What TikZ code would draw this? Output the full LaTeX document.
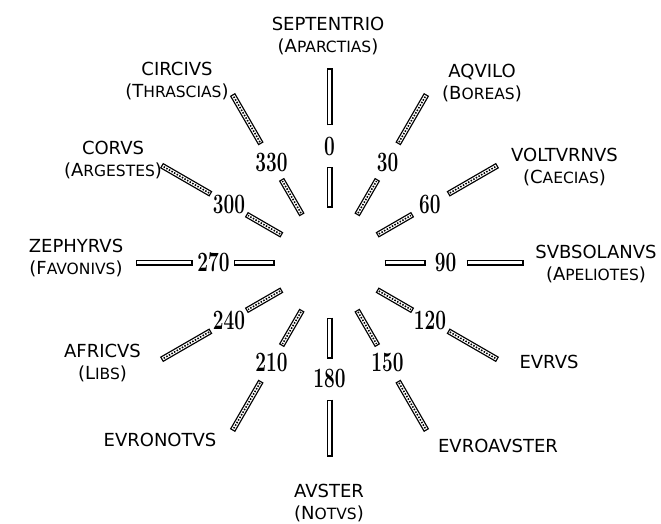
\documentclass[tikz,border=0pt]{standalone}
\usepackage{fontspec}
\usepackage{graphicx}
\usetikzlibrary{calc}
\newfontfamily\labfont{DejaVu Sans}
\newcommand\smc[1]{{\fontsize{15.5}{22}\selectfont #1}}
\newcommand\cnum[1]{\scalebox{0.68}[1]{#1}}
\begin{document}
\begin{tikzpicture}[x=1pt,y=-1pt,
  lab/.style={font=\labfont\fontsize{18}{22}\selectfont, align=center, inner sep=0pt},
  num/.style={font=\fontsize{28}{30}\selectfont\bfseries, inner sep=0pt},
  barout/.style={draw=black, line width=6pt},
  barin/.style={draw=white, line width=3.4pt, shorten <=1.3pt, shorten >=1.3pt},
  chain/.style={draw=black, line width=1.6pt, dash pattern=on 1.5pt off 1.5pt, shorten <=2pt, shorten >=2pt}]
\useasboundingbox (0,0) rectangle (661,524);
\fill[white] (0,0) rectangle (661,524);
\coordinate (C) at (329.5,262.5);
% bar end points and numbers
\foreach \t in {0,30,...,330} {
  \coordinate (a\t) at ($(C)+({\t-90}:55)$);
  \coordinate (b\t) at ($(C)+({\t-90}:96)$);
  \coordinate (c\t) at ($(C)+({\t-90}:137)$);
  \coordinate (d\t) at ($(C)+({\t-90}:194)$);
  \node[num] (n\t) at ($(C)+({\t-90}:116)$) {\cnum{\t}};
}
\foreach \t in {0,90,180,270} {
  \draw[barout] (a\t) -- (b\t);
  \draw[barin] (a\t) -- (b\t);
  \draw[barout] (c\t) -- (d\t);
  \draw[barin] (c\t) -- (d\t);
}
\foreach \t in {30,60,120,150,210,240,300,330} {
  \draw[barout] (a\t) -- (b\t);
  \draw[barin] (a\t) -- (b\t);
  \draw[chain] (a\t) -- (b\t);
  \draw[barout] (c\t) -- (d\t);
  \draw[barin] (c\t) -- (d\t);
  \draw[chain] (c\t) -- (d\t);
}
% wind names
\node[lab] (sep) at (328,36) {SEPTENTRIO\\(A\smc{PARCTIAS})};
\node[lab] (cir) at (177,81) {CIRCIVS\\(T\smc{HRASCIAS})};
\node[lab] (aqv) at (482,83) {AQVILO\\(B\smc{OREAS})};
\node[lab] (vol) at (564.5,167.5) {VOLTVRNVS\\(C\smc{AECIAS})};
\node[lab] (cor) at (113,160.5) {CORVS\\(A\smc{RGESTES})};
\node[lab] (zep) at (76,258) {ZEPHYRVS\\(F\smc{AVONIVS})};
\node[lab] (svb) at (596,264) {SVBSOLANVS\\(A\smc{PELIOTES})};
\node[lab] (afr) at (102.5,363) {AFRICVS\\(L\smc{IBS})};
\node[lab] (evr) at (549,362) {EVRVS};
\node[lab] (evn) at (160,440) {EVRONOTVS};
\node[lab] (eva) at (498,446) {EVROAVSTER};
\node[lab] (avs) at (329,503) {AVSTER\\(N\smc{OTVS})};
\end{tikzpicture}
\end{document}
